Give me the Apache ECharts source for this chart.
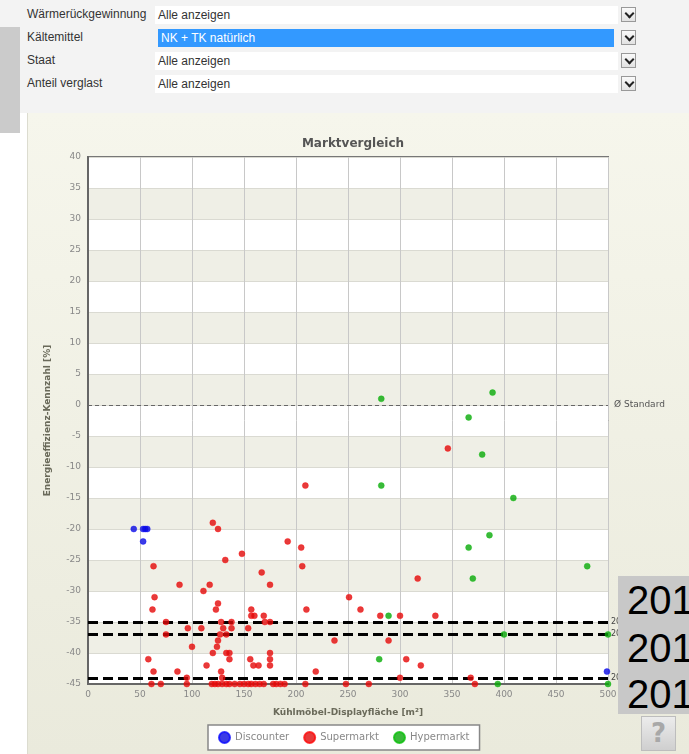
<!DOCTYPE html>
<html>
<head>
<meta charset="utf-8">
<script src="https://cdn.jsdelivr.net/npm/echarts@6/dist/echarts.min.js"></script>
<style>
  html, body { margin:0; padding:0; }
  body { width:689px; height:754px; position:relative; overflow:hidden; background:#ffffff; font-family:"Liberation Sans", Arial, sans-serif; }
  #form { position:absolute; left:0; top:0; width:689px; height:113px; background:#f3f3f3; }
  .row { position:absolute; left:20px; width:669px; height:20px; }
  .lbl { position:absolute; left:7px; top:2px; font-size:12px; color:#333; }
  .fld { position:absolute; left:135px; top:1px; width:463px; height:18px; background:#fff; }
  .fld span { position:absolute; left:3px; top:2px; font-size:12px; color:#333; }
  .fld.sel { left:138px; width:456px; background:#3399ff; }
  .fld.sel span { color:#fff; }
  .btn { position:absolute; left:601px; top:2px; width:15px; height:15px; border:1px solid #999; background:linear-gradient(#fafafa,#e2e2e2); box-sizing:border-box; }
  .btn::after { content:""; position:absolute; left:4px; top:2px; width:5px; height:5px; border-right:2px solid #222; border-bottom:2px solid #222; transform:rotate(45deg); }
  #sidebar { position:absolute; left:0; top:27px; width:20px; height:106px; background:#cbcbcb; }
  #panel { position:absolute; left:27px; top:113px; width:662px; height:641px; background:linear-gradient(#f6f6ec,#eaeadc); border-left:1px solid #dcdcd0; box-sizing:border-box; }
  #chart { position:absolute; left:27px; top:113px; width:662px; height:641px; }
  #over { position:absolute; left:618px; top:576px; width:71px; height:138px; background:#c8c8c8; overflow:hidden; }
  #over div { position:absolute; left:9px; font-size:40px; color:#000; font-family:"Liberation Sans", Arial, sans-serif; line-height:40px; }
  #help { position:absolute; left:641px; top:716px; width:35px; height:35px; box-sizing:border-box; border:1px solid #bdbdbd; background:linear-gradient(#ececec,#cfcfcf); color:#a8a8a8; font-size:26px; font-weight:bold; text-align:center; line-height:33px; font-family:"DejaVu Sans", sans-serif; }
</style>
</head>
<body>
<div id="form">
  <div class="row" style="top:5px"><div class="lbl">Wärmerückgewinnung</div><div class="fld"><span>Alle anzeigen</span></div><div class="btn"></div></div>
  <div class="row" style="top:28px"><div class="lbl">Kältemittel</div><div class="fld sel"><span>NK + TK natürlich</span></div><div class="btn"></div></div>
  <div class="row" style="top:51px"><div class="lbl">Staat</div><div class="fld"><span>Alle anzeigen</span></div><div class="btn"></div></div>
  <div class="row" style="top:74px"><div class="lbl">Anteil verglast</div><div class="fld"><span>Alle anzeigen</span></div><div class="btn"></div></div>
</div>
<div id="sidebar"></div>
<div id="panel"></div>
<div id="chart"></div>
<div id="over"><div style="top:4px">201</div><div style="top:52px">201</div><div style="top:98px">201</div></div>
<div id="help">?</div>
<script>
// ---- data (x = Kühlmöbel-Displayfläche [m²], y = Energieeffizienz-Kennzahl [%]) ----
var discounter = [[44,-20],[53,-20],[55,-20],[57,-20],[53,-22],[499,-43]];
var supermarkt = [
  [120,-19],[125,-20],[132,-25],[148,-24],[63,-26],[88,-29],[117,-29],[111,-30],[64,-31],[125,-32],
  [62,-33],[123,-33],[75,-35],[128,-35],[138,-35],[96,-36],[109,-36],[130,-36],[138,-36],[154,-36],
  [75,-37],[127,-37],[133,-37],[125,-38],[100,-39],[124,-39],[120,-40],[133,-40],[136,-40],[58,-41],
  [136,-41],[114,-42],[63,-43],[86,-43],[128,-43],[95,-44],[129,-44],
  [61,-45],[70,-45],[95,-45],[119,-45],[122,-45],[125,-45],[129,-45],[133,-45],[136,-45],[141,-45],
  [146,-45],[150,-45],[154,-45],[157,-45],[161,-45],[165,-45],[169,-45],[178,-45],[181,-45],[185,-45],
  [189,-45],[209,-45],[248,-45],[270,-45],[372,-45],
  [192,-22],[205,-23],[206,-26],[209,-13],[167,-27],[175,-29],[251,-31],[157,-33],[210,-33],[262,-33],
  [157,-34],[160,-34],[169,-34],[281,-34],[300,-34],[334,-34],[170,-35],[175,-35],[237,-38],[289,-38],
  [175,-40],[156,-41],[175,-41],[306,-41],[159,-42],[164,-42],[175,-42],[320,-42],[219,-43],[300,-44],
  [368,-44],[346,-7],[317,-28]
];
var hypermarkt = [[282,1],[389,2],[366,-2],[379,-8],[282,-13],[409,-15],[386,-21],[366,-23],[480,-26],
  [370,-28],[289,-34],[400,-37],[500,-37],[280,-41],[394,-45],[500,-45]];
var seriesNames = ['Discounter','Supermarkt','Hypermarkt'];
var seriesColors = ['#0a0ae0','#e00a0a','#0aa80a'];
var standardLine = 0;
var yearLines = [-35,-37,-44];
var yearLabels = ['2011','2012','2013'];

var font = '"DejaVu Sans", Verdana, sans-serif';
var chart = echarts.init(document.getElementById('chart'), null, {renderer:'canvas'});

var markData = [{
  yAxis: standardLine,
  lineStyle: {color:'#666', width:1, type:[4,3]},
  label: {show:true, position:'end', formatter:'Ø Standard', color:'#555', fontSize:9, fontFamily:font, distance:6}
}];
yearLines.forEach(function(v,i){
  markData.push({
    yAxis: v,
    lineStyle: {color:'#000', width:3, type:[10,5]},
    label: {show:true, position:'end', formatter:yearLabels[i], color:'#444', fontSize:8, fontFamily:font, distance:3}
  });
});

function dotStyle(c){
  return {color: c, borderColor: echarts.color.lift(c,-0.15), borderWidth:0.5};
}

chart.setOption({
  animation:false,
  backgroundColor:'transparent',
  title:{
    text:'Marktvergleich', left:321, top:20, textAlign:'center',
    textStyle:{fontFamily:font, fontSize:12, fontWeight:'bold', color:'#555'}
  },
  legend:{
    left:181, top:612, orient:'horizontal',
    data: seriesNames,
    icon:'circle', itemWidth:11, itemHeight:11, itemGap:14,
    backgroundColor:'#fff', borderColor:'#888', borderWidth:1.5, padding:[6,10,6,10],
    textStyle:{color:'#888', fontSize:10, fontFamily:font}
  },
  grid:{left:61, top:44, width:520, height:527, show:true, borderColor:'#777', borderWidth:2, backgroundColor:'#fff'},
  xAxis:{
    type:'value', min:0, max:500, interval:50,
    name:'Kühlmöbel-Displayfläche [m²]', nameLocation:'middle', nameGap:24,
    nameTextStyle:{fontFamily:font, fontSize:9, fontWeight:'bold', color:'#6a6a5a'},
    axisLine:{show:true, onZero:false, lineStyle:{color:'#666', width:2}},
    axisTick:{show:false},
    axisLabel:{color:'#888', fontSize:9, fontFamily:font, margin:6},
    splitLine:{show:true, lineStyle:{color:'#c8c8c8', width:1}}
  },
  yAxis:{
    type:'value', min:-45, max:40, interval:5,
    name:'Energieeffizienz-Kennzahl [%]', nameLocation:'middle', nameGap:36, nameRotate:90,
    nameTextStyle:{fontFamily:font, fontSize:9, fontWeight:'bold', color:'#6a6a5a'},
    axisLine:{show:true, onZero:false, lineStyle:{color:'#666', width:2}},
    axisTick:{show:false},
    axisLabel:{color:'#888', fontSize:9, fontFamily:font, margin:7},
    splitLine:{show:true, lineStyle:{color:'#dadad2', width:1}},
    splitArea:{show:true, areaStyle:{color:['#ffffff','#efefe6']}}
  },
  series:[
    {name:seriesNames[0], type:'scatter', symbolSize:6, data:discounter, itemStyle:dotStyle(seriesColors[0]), z:3},
    {name:seriesNames[1], type:'scatter', symbolSize:6, data:supermarkt, itemStyle:dotStyle(seriesColors[1]), z:3,
      markLine:{silent:true, symbol:'none', data:markData, z:2}},
    {name:seriesNames[2], type:'scatter', symbolSize:6, data:hypermarkt, itemStyle:dotStyle(seriesColors[2]), z:3}
  ]
});
</script>
</body>
</html>
